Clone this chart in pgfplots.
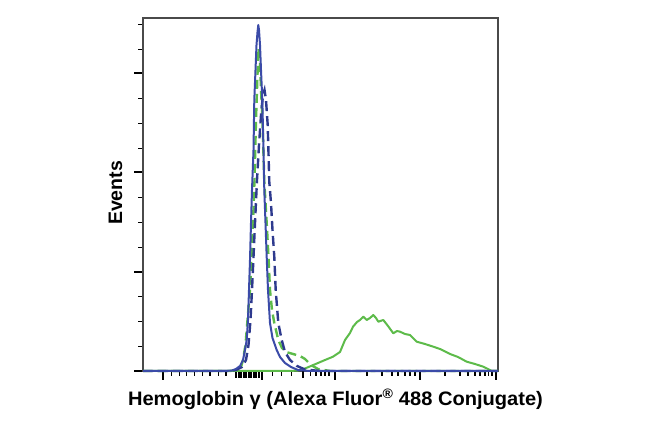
\documentclass[border=0pt]{standalone}
\usepackage{pgfplots}
\pgfplotsset{compat=1.18}
\usepackage{fontspec}
\setmainfont{Liberation Sans}
\definecolor{bsolid}{HTML}{3B4BA8}
\definecolor{bdash}{HTML}{2E3A8E}
\definecolor{gline}{HTML}{5DBB4A}
\definecolor{axgray}{HTML}{4A4A4A}
\begin{document}
\begin{tikzpicture}[x=1pt,y=1pt]
\path (0,0) rectangle (650,438);
\begin{axis}[
  at={(143pt,67pt)}, anchor=origin,
  scale only axis, width=355pt, height=353pt,
  xmin=143, xmax=498, ymin=0, ymax=353,
  clip=false,
  axis line style={draw=axgray, line width=2pt},
  tick align=outside,
  xtick pos=bottom, ytick pos=left,
  xtick={163,262,335,420,496},
  minor xtick={171.7,179.3,186.7,194.3,202.7,210,218.3,226,272.7,281.7,291.7,310.7,316,321,325,329,367,382,392,398,405,410,415,445,460,468,475,480,485,488.5,492},
  extra x ticks={236,238.5,241,243.5,246,248.5,251,253.5,256,258.5,302.7},
  extra x tick labels={},
  extra x tick style={major tick length=7pt},
  ytick={0,99,199,298},
  minor ytick={24.75,49.5,74.25,123.75,148.5,173.25,222.75,247.5,272.25,321.75,346.5},
  xticklabels={}, yticklabels={},
  major tick length=9pt, minor tick length=5pt,
  major tick style={black, line width=2pt},
  minor tick style={black, line width=1.4pt},
]
% green solid (y = 371 - pixel y)
\addplot[gline, line width=2pt, line join=round] coordinates {
(143,0)(290,0)(298,0.5)(305,2.5)(311,5)(318,8)(325,11)(333,14.3)(340,19)(345,31)(350,38)(353,44.3)(357,49)(360,51)(363.3,54.3)(366.7,51)(370,53)(373.3,56)(376,53)(378.3,49.3)(383.3,51)(388,45)(393.3,37.7)(397,40)(400,39.3)(405,37)(410,36)(416.7,29.3)(425,27)(433.3,24.3)(440,22)(450,17)(458,14)(466.7,9.3)(475,7)(483.3,4.3)(488,2)(491.7,0)(498,0)};
% green dashed
\addplot[gline, line width=2.4pt, dash pattern=on 9pt off 5pt] coordinates {
(143,0)(230,0)(237,1)(241,4)(243,11)(245.5,26)(247.5,51)(250,81)(251.5,114)(253,148)(254.5,191)(256,251)(257.3,291)(258.5,323)(260,311)(261,281)(262.3,256)(264.3,189)(266.7,148)(268.5,114)(270,81)(272,61)(274.3,48)(278.3,31)(282,23)(286,19)(293,17)(300,15)(305,12)(311,6)(318,2)(330,0)(498,0)};
% blue dashed
\addplot[bdash, line width=2.4pt, dash pattern=on 10pt off 5pt] coordinates {
(143,0)(228,0)(236,1)(242,4)(246,11)(248.5,26)(250.5,51)(252,81)(253.5,114)(255,148)(257,191)(259,226)(261,256)(263,276)(264.5,281)(266,271)(267.7,246)(269.3,189)(271,168)(272.5,141)(274.3,114)(275.7,81)(278.3,48)(281.7,31)(285,19)(290,11)(297,5)(305,1.5)(320,0)(498,0)};
% blue solid
\addplot[bsolid, line width=2pt, line join=round] coordinates {
(143,0)(225,0)(232,0.5)(236,2)(240,5)(243,11)(245,21)(246.7,31)(248,51)(249,81)(250,111)(251,148)(252,181)(253.5,221)(254.3,271)(255.5,301)(256.5,326)(257.5,339)(258.3,346)(259,341)(260,326)(261,301)(262.3,271)(263.5,221)(264.3,181)(265.5,148)(266.7,114)(268,81)(270,48)(272.5,33)(276.7,21)(280,14)(285,8)(291,4)(298,1)(310,0)(498,0)};
\end{axis}
\node[anchor=base, font=\fontsize{19.5}{22}\selectfont\bfseries] at (335.5,32) {\scalebox{1.03}[1]{Hemoglobin γ (Alexa Fluor\textsuperscript{®} 488 Conjugate)}};
\node[anchor=base, rotate=90, font=\fontsize{19.5}{22}\selectfont\bfseries] at (122,245) {Events};
\end{tikzpicture}
\end{document}
